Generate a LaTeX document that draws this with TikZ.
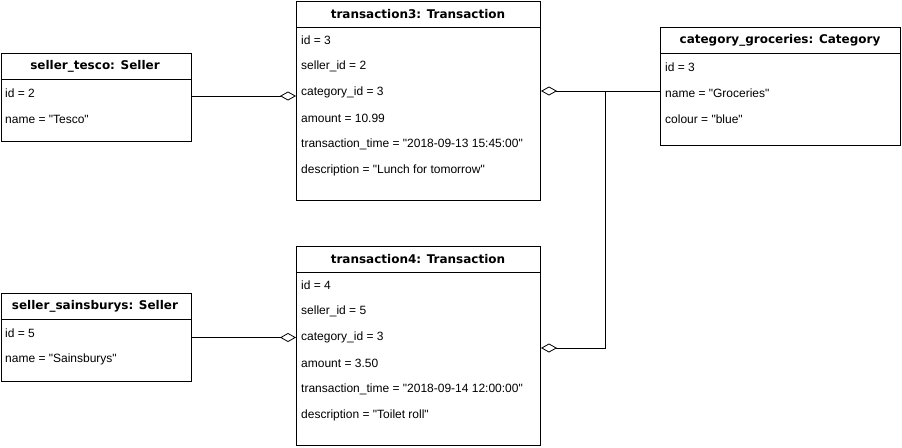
\documentclass[tikz,border=0pt]{standalone}
\usepackage{fontspec}
\setmainfont{Liberation Sans}
\newfontfamily\headfont{DejaVu Sans}
\usetikzlibrary{arrows.meta}

\newcommand{\qt}[1]{\textquotedbl#1\textquotedbl}

\tikzset{
  objbox/.style={draw, line width=1pt, anchor=north west, inner sep=0pt},
  objhead/.style={font=\headfont\fontsize{12}{14}\selectfont\bfseries},
  attr/.style={anchor=west, inner sep=0pt, font=\fontsize{12}{14}\selectfont},
  agg/.style={line width=0.8pt, -{Diamond[open, length=16pt, width=9pt, line width=0.8pt]}},
}

\begin{document}
\begin{tikzpicture}[x=1pt, y=-1pt]

        \useasboundingbox (0,0) rectangle (902,447);
        \def\rowh{26}  % spacing of attribute rows

        % seller_tesco
        \node[objbox, minimum width=190pt, minimum height=88pt] (tesco) at (0.5,53) {};
        \node[objhead] (tescohead) at (95,66) {seller\_tesco: Seller};
        \draw[line width=1pt] (0.5,79) -- (190.5,79);
        \node[attr] (tescoid) at (5,93) {id = 2};
        \node[attr] (tesconame) at (5,93+\rowh) {name = \qt{Tesco}};

        % seller_sainsburys
        \node[objbox, minimum width=190pt, minimum height=88pt] (sains) at (0.5,293) {};
        \node[objhead] (sainshead) at (95,306) {seller\_sainsburys: Seller};
        \draw[line width=1pt] (0.5,319) -- (190.5,319);
        \node[attr] (sainsid) at (5,333) {id = 5};
        \node[attr] (sainsname) at (5,333+\rowh) {name = \qt{Sainsburys}};

        % transaction3
        \node[objbox, minimum width=244pt, minimum height=199pt] (trans3) at (296,1) {};
        \node[objhead] (trans3head) at (418,14) {transaction3: Transaction};
        \draw[line width=1pt] (296,27) -- (540,27);
        \node[attr] (t3id) at (301,40) {id = 3};
        \node[attr] (t3seller) at (301,40+\rowh) {seller\_id = 2};
        \node[attr] (t3cat) at (301,40+2*\rowh) {category\_id = 3};
        \node[attr] (t3amount) at (301,40+3*\rowh) {amount = 10.99};
        \node[attr] (t3time) at (301,40+4*\rowh) {transaction\_time = \qt{2018-09-13 15:45:00}};
        \node[attr] (t3desc) at (301,40+5*\rowh) {description = \qt{Lunch for tomorrow}};

        % transaction4
        \node[objbox, minimum width=244pt, minimum height=199pt] (trans4) at (296,246) {};
        \node[objhead] (trans4head) at (418,259) {transaction4: Transaction};
        \draw[line width=1pt] (296,272) -- (540,272);
        \node[attr] (t4id) at (301,285) {id = 4};
        \node[attr] (t4seller) at (301,285+\rowh) {seller\_id = 5};
        \node[attr] (t4cat) at (301,285+2*\rowh) {category\_id = 3};
        \node[attr] (t4amount) at (301,285+3*\rowh) {amount = 3.50};
        \node[attr] (t4time) at (301,285+4*\rowh) {transaction\_time = \qt{2018-09-14 12:00:00}};
        \node[attr] (t4desc) at (301,285+5*\rowh) {description = \qt{Toilet roll}};

        % category_groceries
        \node[objbox, minimum width=240pt, minimum height=118pt] (catgroc) at (660,27) {};
        \node[objhead] (catgrochead) at (780,40) {category\_groceries: Category};
        \draw[line width=1pt] (660,53) -- (900,53);
        \node[attr] (catid) at (665,67) {id = 3};
        \node[attr] (catname) at (665,67+\rowh) {name = \qt{Groceries}};
        \node[attr] (catcolour) at (665,67+2*\rowh) {colour = \qt{blue}};

        % aggregation links
        \draw[agg] (tesco.east |- 0,96) -- (trans3.west |- 0,96);
        \draw[agg] (sains.east) -- (sains.east -| trans4.west);

        \coordinate (catjoin) at (605,91);
        \coordinate (catelbow) at (605,348);
        \draw[agg] (catgroc.west |- catjoin) -- (catjoin -| trans3.east);
        \draw[agg] (catjoin) -- (catelbow) -- (catelbow -| trans4.east);

\end{tikzpicture}
\end{document}
